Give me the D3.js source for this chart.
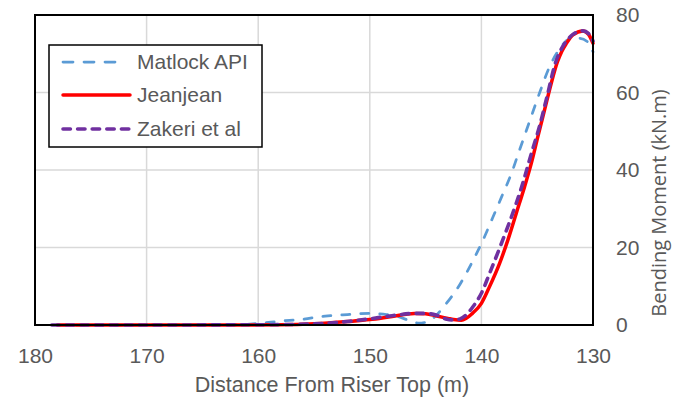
<!DOCTYPE html>
<html>
<head>
<meta charset="utf-8">
<script src="https://cdn.jsdelivr.net/npm/d3@7"></script>
<style>
  html, body { margin: 0; padding: 0; background: #fff; }
  svg { display: block; }
</style>
</head>
<body>
<svg id="chart" width="688" height="402"></svg>
<script>
// Bending moment along the riser for three soil models
const xTicks = [180, 170, 160, 150, 140, 130];
const yTicks = [0, 20, 40, 60, 80];

const seriesNames = ["Matlock API", "Jeanjean", "Zakeri et al"];

// distance from riser top (m) and bending moment (kN.m)
const matlockX = [178, 170, 162, 160, 158, 156, 154, 152, 150, 148.5, 147.5, 146.5, 145.6, 145, 144.3, 143.3, 141.9, 140.76, 140, 139, 138.2, 137.3, 136.6, 135.7, 134.8, 133.9, 133, 132.1, 131.2, 130.5, 130];
const matlockY = [0, 0, 0.05, 0.4, 1.0, 1.5, 2.3, 2.7, 3.0, 2.7, 2.2, 1.2, 0.5, 0.7, 1.8, 5.0, 10.6, 16.6, 21.0, 27.6, 33.0, 39.2, 45.0, 52.4, 59.8, 66.6, 71.2, 73.8, 74.0, 73.1, 70.5];

const jeanjeanX = [178, 170, 162, 158, 155, 152, 150, 148, 146, 145, 144, 143, 142.5, 141.8, 140.8, 140, 139.27, 138.37, 137.63, 136.88, 136.13, 135.53, 134.94, 134.34, 133.74, 133.2, 132.8, 132.4, 131.8, 130.9, 130.4, 130];
const jeanjeanY = [0, 0, 0, 0.05, 0.3, 0.9, 1.4, 2.2, 2.95, 2.9, 2.3, 1.7, 1.4, 1.2, 3.0, 5.6, 9.9, 15.9, 21.9, 28.8, 35.7, 41.7, 48.6, 55.5, 62.4, 67.8, 70.6, 72.6, 74.9, 75.9, 75, 72.7];

const zakeriX = [178.5, 170, 162, 158, 155, 152, 150, 148, 146, 145, 144, 143.1, 142.4, 141.9, 141.3, 140.76, 140, 139.27, 138.2, 136.88, 136.3, 135.5, 134.8, 134.1, 133.35, 132.9, 132.5, 131.8, 130.9, 130.4, 130];
const zakeriY = [0, 0, 0.05, 0.1, 0.3, 0.9, 1.6, 2.4, 3.0, 3.0, 2.5, 1.5, 1.3, 1.6, 2.8, 4.7, 8.2, 13.3, 21.1, 31.4, 36.5, 44.5, 51.2, 59.2, 67.8, 70.9, 72.8, 75.0, 75.9, 75.2, 73.3];

const seriesX = [matlockX, jeanjeanX, zakeriX];
const seriesY = [matlockY, jeanjeanY, zakeriY];

const styles = [
  { color: "#5B9BD5", width: 2.75, dash: "8,11", cap: "round" },
  { color: "#FF0000", width: 3.5, dash: null, cap: "round" },
  { color: "#7030A0", width: 3.6, dash: "7.4,7.2", cap: "round" }
];

const plot = { left: 35, right: 593, top: 15, bottom: 325 };
const svg = d3.select("#chart");
const font = "'Liberation Sans', Arial, sans-serif";
const textColor = "#595959";

const x = d3.scaleLinear().domain([180, 130]).range([plot.left, plot.right]);
const y = d3.scaleLinear().domain([0, 80]).range([plot.bottom, plot.top]);

// gridlines
const grid = svg.append("g").attr("stroke", "#d9d9d9").attr("stroke-width", 1.5);
grid.selectAll("line.v").data(xTicks.slice(1, -1)).join("line")
  .attr("x1", d => x(d)).attr("x2", d => x(d))
  .attr("y1", plot.top).attr("y2", plot.bottom);
grid.selectAll("line.h").data(yTicks.slice(1, -1)).join("line")
  .attr("x1", plot.left).attr("x2", plot.right)
  .attr("y1", d => y(d)).attr("y2", d => y(d));

// series
const line = d3.line()
  .x(d => x(d[0]))
  .y(d => y(d[1]))
  .curve(d3.curveMonotoneX);

seriesNames.forEach((name, i) => {
  const pts = seriesX[i].map((v, j) => [v, seriesY[i][j]]);
  const s = styles[i];
  svg.append("path")
    .datum(pts)
    .attr("d", line)
    .attr("fill", "none")
    .attr("stroke", s.color)
    .attr("stroke-width", s.width)
    .attr("stroke-linecap", s.cap)
    .attr("stroke-linejoin", "round")
    .attr("stroke-dasharray", s.dash);
});

// plot frame
svg.append("rect")
  .attr("x", plot.left).attr("y", plot.top)
  .attr("width", plot.right - plot.left).attr("height", plot.bottom - plot.top)
  .attr("fill", "none").attr("stroke", "#000").attr("stroke-width", 2);

// x axis
const xAxis = svg.append("g")
  .attr("transform", `translate(0,${plot.bottom})`)
  .call(d3.axisBottom(x).tickValues(xTicks).tickSize(0).tickPadding(23).tickFormat(d3.format("d")));
xAxis.select(".domain").remove();
xAxis.selectAll("text")
  .attr("font-family", font).attr("font-size", 21).attr("fill", textColor);

// y axis on the right
const yAxis = svg.append("g")
  .attr("transform", `translate(${plot.right},0)`)
  .call(d3.axisRight(y).tickValues(yTicks).tickSize(0).tickPadding(23));
yAxis.select(".domain").remove();
yAxis.selectAll("text")
  .attr("font-family", font).attr("font-size", 21).attr("fill", textColor);

// axis titles
svg.append("text")
  .attr("x", 332).attr("y", 392)
  .attr("text-anchor", "middle")
  .attr("font-family", font).attr("font-size", 21.5).attr("fill", textColor)
  .text("Distance From Riser Top (m)");

svg.append("text")
  .attr("transform", "translate(666,203) rotate(-90)")
  .attr("text-anchor", "middle")
  .attr("font-family", "'Open Sans', sans-serif").attr("font-size", 20).attr("fill", textColor)
  .text("Bending Moment (kN.m)");

// legend
const legend = svg.append("g");
legend.append("rect")
  .attr("x", 49).attr("y", 45).attr("width", 213).attr("height", 102)
  .attr("fill", "#fff").attr("stroke", "#000").attr("stroke-width", 1.5);

const rowY = [62, 95, 129];
seriesNames.forEach((name, i) => {
  const s = styles[i];
  legend.append("line")
    .attr("x1", 63).attr("x2", i === 0 ? 119 : 130)
    .attr("y1", rowY[i]).attr("y2", rowY[i])
    .attr("stroke", s.color).attr("stroke-width", s.width)
    .attr("stroke-linecap", s.cap)
    .attr("stroke-dasharray", i === 0 ? "10,11" : s.dash);
  legend.append("text")
    .attr("x", 137).attr("y", rowY[i]).attr("dy", "0.35em")
    .attr("font-family", font).attr("font-size", 21).attr("fill", textColor)
    .text(name);
});
</script>
</body>
</html>
